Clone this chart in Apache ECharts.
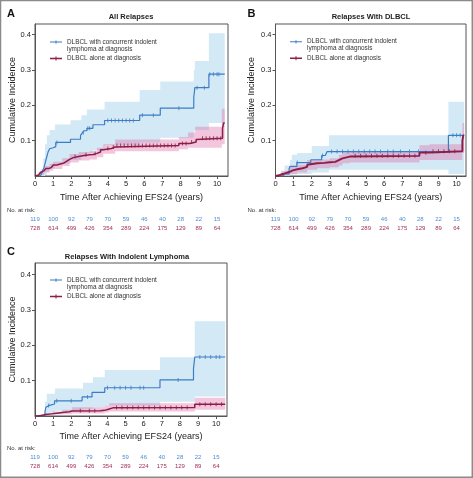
<!DOCTYPE html>
<html><head><meta charset="utf-8">
<script src="https://cdn.jsdelivr.net/npm/echarts@6/dist/echarts.min.js"></script>
<style>html,body{margin:0;padding:0;background:#fff}#c{width:473px;height:478px}</style>
</head><body><div id="c"></div>
<script>
// ---------------- DATA ----------------
const panelLetters = ['A', 'B', 'C'];
const panelTitles = ['All Relapses', 'Relapses With DLBCL', 'Relapses With Indolent Lymphoma'];
const seriesNames = ['DLBCL with concurrent indolent\nlymphoma at diagnosis', 'DLBCL alone at diagnosis'];
const xTicks = [0, 1, 2, 3, 4, 5, 6, 7, 8, 9, 10];
const yTicks = [0.1, 0.2, 0.3, 0.4];
const xTitle = 'Time After Achieving EFS24 (years)';
const yTitle = 'Cumulative Incidence';
const riskLabel = 'No. at risk:';
const riskIndolent = [119, 100, 92, 79, 70, 59, 46, 40, 28, 22, 15];
const riskAlone = [728, 614, 499, 426, 354, 289, 224, 175, 129, 89, 64];

// Panel A: all relapses  [time, cumulative incidence]
const curveA_ind = [[0,0],[0.3,0.004],[0.4,0.012],[0.5,0.025],[0.6,0.045],[0.65,0.055],[0.72,0.068],[0.8,0.077],[0.9,0.08],[1.0,0.083],[1.14,0.095],[1.95,0.104],[2.5,0.115],[2.6,0.122],[2.7,0.128],[2.85,0.135],[3.18,0.145],[3.82,0.157],[5.75,0.172],[6.88,0.192],[8.72,0.222],[8.78,0.25],[9.55,0.288],[10.42,0.288]];
const curveA_alone = [[0,0],[0.1,0.003],[0.2,0.006],[0.3,0.01],[0.4,0.015],[0.5,0.018],[0.6,0.021],[0.75,0.024],[0.9,0.028],[1.0,0.031],[1.2,0.034],[1.4,0.037],[1.6,0.042],[1.75,0.047],[1.9,0.052],[2.1,0.055],[2.4,0.058],[2.7,0.06],[3.0,0.061],[3.2,0.064],[3.4,0.068],[3.6,0.074],[3.75,0.078],[4.2,0.082],[4.4,0.086],[7.9,0.092],[8.5,0.096],[8.85,0.103],[8.95,0.107],[10.3,0.135],[10.36,0.15],[10.42,0.15]];
// bands: [time, lower, upper]
const bandA_ind = [[0,0,0],[0.3,0,0.02],[0.45,0,0.05],[0.55,0.003,0.09],[0.65,0.012,0.115],[0.8,0.022,0.13],[1.1,0.035,0.146],[1.95,0.045,0.158],[2.55,0.055,0.172],[2.85,0.065,0.188],[3.2,0.072,0.188],[3.82,0.087,0.21],[5.75,0.095,0.243],[6.88,0.108,0.267],[8.72,0.125,0.3],[8.78,0.13,0.325],[9.55,0.15,0.404],[10.42,0.15,0.404]];
const bandA_alone = [[0,0,0],[0.2,0.002,0.012],[0.5,0.01,0.028],[0.8,0.015,0.035],[1.0,0.02,0.04],[1.5,0.028,0.05],[1.9,0.038,0.062],[2.4,0.044,0.068],[3.0,0.047,0.07],[3.4,0.053,0.08],[3.75,0.063,0.09],[4.4,0.07,0.103],[7.9,0.076,0.11],[8.4,0.08,0.123],[8.8,0.08,0.139],[10.26,0.09,0.19],[10.42,0.09,0.19]];
const censorA_ind = [1.2,2.65,2.9,3.0,4.0,4.2,4.4,4.6,4.8,5.0,5.2,5.4,5.9,6.5,7.9,8.9,9.3,9.6,9.8,10.0,10.1];
const censorA_alone = [2.2,2.8,3.3,4.0,4.3,4.5,4.7,4.9,5.1,5.3,5.5,5.7,5.9,6.1,6.3,6.5,6.7,6.9,7.1,7.3,7.5,7.7,8.1,8.3,8.6,9.2,9.4,9.6,9.8,10.0,10.2];

// Panel B: relapses with DLBCL
const curveB_ind = [[0,0],[0.4,0.003],[0.5,0.006],[0.75,0.02],[0.8,0.027],[1.18,0.038],[1.95,0.046],[2.55,0.058],[2.75,0.063],[2.85,0.069],[9.55,0.115],[10.42,0.115]];
const curveB_alone = [[0,0],[0.1,0.002],[0.2,0.005],[0.35,0.008],[0.55,0.012],[0.8,0.016],[0.95,0.019],[1.2,0.022],[1.5,0.026],[1.75,0.032],[1.85,0.036],[2.3,0.037],[2.7,0.039],[3.0,0.04],[3.3,0.045],[3.5,0.05],[3.7,0.055],[4.1,0.057],[7.95,0.066],[8.5,0.07],[10.32,0.1],[10.37,0.115],[10.42,0.115]];
const bandB_ind = [[0,0,0],[0.5,0,0.03],[0.8,0.003,0.045],[0.9,0.004,0.06],[1.2,0.006,0.065],[2.0,0.01,0.085],[2.95,0.018,0.115],[9.55,0.006,0.21],[10.42,0.006,0.21]];
const bandB_alone = [[0,0,0],[0.3,0.001,0.015],[0.8,0.006,0.028],[1.2,0.01,0.032],[1.75,0.018,0.045],[2.3,0.022,0.047],[3.0,0.025,0.05],[3.5,0.03,0.06],[3.7,0.036,0.067],[4.1,0.038,0.07],[7.95,0.045,0.087],[8.5,0.045,0.09],[10.32,0.065,0.15],[10.42,0.065,0.15]];
const censorB_ind = [1.2,2.6,3.1,3.4,3.7,4.0,4.3,4.6,4.9,5.2,5.5,5.8,6.2,6.5,6.9,7.4,7.9,9.8,10.0,10.2];
const censorB_alone = [4.4,4.7,5.0,5.3,5.6,5.9,6.2,6.5,6.8,7.1,7.4,7.7,8.3,8.7,9.0,9.3,9.6,9.9];

// Panel C: relapses with indolent lymphoma
const curveC_ind = [[0,0],[0.55,0.012],[0.6,0.025],[0.66,0.03],[0.8,0.034],[1.08,0.043],[2.6,0.054],[3.15,0.067],[3.85,0.08],[6.9,0.102],[8.75,0.133],[8.82,0.167],[10.5,0.167]];
const curveC_alone = [[0,0],[0.2,0.002],[0.4,0.004],[0.6,0.006],[0.9,0.008],[1.2,0.01],[1.5,0.012],[1.9,0.014],[2.05,0.015],[3.6,0.016],[3.85,0.02],[4.1,0.023],[4.3,0.024],[8.82,0.033],[10.5,0.033]];
const bandC_ind = [[0,0,0],[0.55,0.002,0.04],[0.65,0.008,0.063],[1.1,0.015,0.078],[2.65,0.02,0.094],[3.2,0.025,0.11],[3.85,0.03,0.13],[6.9,0.04,0.166],[8.82,0.055,0.268],[10.5,0.055,0.268]];
const bandC_alone = [[0,0,0],[0.5,0.001,0.008],[1.0,0.004,0.013],[1.5,0.005,0.018],[2.05,0.007,0.025],[3.85,0.01,0.03],[4.1,0.013,0.036],[8.82,0.018,0.052],[10.5,0.018,0.052]];
const censorC_ind = [0.75,1.2,2.0,2.9,4.0,4.4,4.7,5.0,5.3,5.8,6.0,7.9,9.1,9.4,9.7,10.0,10.2];
const censorC_alone = [2.5,3.0,3.3,4.5,4.8,5.1,5.4,5.7,6.0,6.3,6.6,6.9,7.2,7.5,7.8,8.1,8.4,9.1,9.4,9.7,10.0,10.3];

// ---------------- LAYOUT / STYLE ----------------
const FONT = 'Liberation Sans, Arial, Helvetica, sans-serif';
const C_BLUE = '#3b7dc4', C_BLUE_BAND = '#d4e9f6';
const C_RED = '#8c1d45', C_RED_BAND = 'rgba(222,105,165,0.38)';
const C_RISK_BLUE = '#4f8fd0', C_RISK_RED = '#a03060';
const panels = [
  { grid: {left: 35, top: 24, width: 193, height: 152}, xmax: 10.6, ymax: 0.43,
    title: {x: 131, y: 12.5}, letter: {x: 7, y: 8}, legend: {x: 50, y: 38.5},
    riskOff: [40.5, 49.5], riskLabel: {x: 7, y: 207}, xNameGap: 17, yNameGap: 18,
    curves: [curveA_ind, curveA_alone], bands: [bandA_ind, bandA_alone], censors: [censorA_ind, censorA_alone] },
  { grid: {left: 275.5, top: 24, width: 190.5, height: 152}, xmax: 10.52, ymax: 0.43,
    title: {x: 371, y: 12.5}, letter: {x: 247.5, y: 8}, legend: {x: 290, y: 38.2},
    riskOff: [40, 49], riskLabel: {x: 247.5, y: 207}, xNameGap: 17, yNameGap: 19,
    curves: [curveB_ind, curveB_alone], bands: [bandB_ind, bandB_alone], censors: [censorB_ind, censorB_alone] },
  { grid: {left: 35, top: 263, width: 192, height: 153}, xmax: 10.6, ymax: 0.433,
    title: {x: 127, y: 252.5}, letter: {x: 7, y: 246}, legend: {x: 50, y: 276.5},
    riskOff: [38.5, 47], riskLabel: {x: 7, y: 445}, xNameGap: 16, yNameGap: 18,
    curves: [curveC_ind, curveC_alone], bands: [bandC_ind, bandC_alone], censors: [censorC_ind, censorC_alone] }
];

function stepAt(curve, t) {
  let y = 0;
  for (const p of curve) { if (p[0] <= t) y = p[1]; }
  return y;
}
const isInt = v => Math.abs(v - Math.round(v)) < 1e-6;

// polygon of a step-shaped band, drawn once through the axis scales
function bandRenderer(band, fill) {
  return function (params, api) {
    if (params.dataIndex !== 0) return null;
    const pts = [];
    for (let i = 0; i < band.length - 1; i++) {
      pts.push(api.coord([band[i][0], band[i][2]]));
      pts.push(api.coord([band[i + 1][0], band[i][2]]));
    }
    for (let i = band.length - 2; i >= 0; i--) {
      pts.push(api.coord([band[i + 1][0], band[i][1]]));
      pts.push(api.coord([band[i][0], band[i][1]]));
    }
    return {type: 'polygon', shape: {points: pts}, style: {fill: fill, stroke: null}, silent: true};
  };
}

const grids = [], xAxes = [], yAxes = [], series = [], titles = [], legends = [], graphics = [];

const iconBlue = 'path://M0,1 L12,1 L12,2 L0,2 Z M5.5,0 L6.5,0 L6.5,3.2 L5.5,3.2 Z M0,10 L0.01,10 L0,10 Z';
const iconRed = 'path://M0,4.2 L12,4.2 L12,5.8 L0,5.8 Z M5.5,3 L6.5,3 L6.5,7 L5.5,7 Z M0,0 L0.01,0 L0,0 Z M0,10 L0.01,10 L0,10 Z';

panels.forEach((P, p) => {
  grids.push(Object.assign({show: true, borderColor: '#555', borderWidth: 1, backgroundColor: 'transparent', containLabel: false}, P.grid));
  const xi = xAxes.length;
  xAxes.push({
    type: 'value', gridIndex: p, min: 0, max: P.xmax, interval: 1, position: 'bottom',
    axisLine: {show: true, lineStyle: {color: '#555', width: 1}},
    axisTick: {show: true, length: 3, inside: false, lineStyle: {color: '#555'}, customValues: xTicks},
    axisLabel: {fontSize: 7.5, color: '#222', margin: 4, fontFamily: FONT, customValues: xTicks,
      formatter: v => isInt(v) ? String(Math.round(v)) : ''},
    splitLine: {show: false},
    name: xTitle, nameLocation: 'middle', nameGap: P.xNameGap,
    nameTextStyle: {fontSize: 9, color: '#222', fontFamily: FONT}
  });
  [riskIndolent, riskAlone].forEach((arr, k) => {
    xAxes.push({
      type: 'value', gridIndex: p, min: 0, max: P.xmax, interval: 1, position: 'bottom', offset: P.riskOff[k],
      axisLine: {show: false}, axisTick: {show: false}, splitLine: {show: false},
      axisLabel: {fontSize: 6, color: k === 0 ? C_RISK_BLUE : C_RISK_RED, margin: 0, fontFamily: FONT,
        customValues: xTicks,
        formatter: v => isInt(v) && arr[Math.round(v)] !== undefined ? String(arr[Math.round(v)]) : ''}
    });
  });
  yAxes.push({
    type: 'value', gridIndex: p, min: 0, max: P.ymax, interval: 0.1,
    axisLine: {show: true, lineStyle: {color: '#555', width: 1}},
    axisTick: {show: true, length: 3, lineStyle: {color: '#555'}, customValues: yTicks},
    axisLabel: {fontSize: 7.5, color: '#222', margin: 4, fontFamily: FONT, customValues: yTicks,
      formatter: v => (v > 0.05 && isInt(v * 10)) ? v.toFixed(1) : ''},
    splitLine: {show: false},
    name: yTitle, nameLocation: 'middle', nameGap: P.yNameGap,
    nameTextStyle: {fontSize: 9, color: '#222', fontFamily: FONT}
  });

  // confidence bands
  P.bands.forEach((band, k) => {
    series.push({
      type: 'custom', xAxisIndex: xi, yAxisIndex: p, silent: true, clip: true,
      renderItem: bandRenderer(band, k === 0 ? C_BLUE_BAND : C_RED_BAND),
      encode: {x: 0, y: [1, 2]}, data: band, z: 1, animation: false
    });
  });
  // step curves
  P.curves.forEach((curve, k) => {
    const col = k === 0 ? C_BLUE : C_RED;
    series.push({
      type: 'line', name: seriesNames[k], xAxisIndex: xi, yAxisIndex: p, step: 'end', symbol: 'none',
      lineStyle: {color: col, width: k === 0 ? 1.2 : (p === 1 ? 1.9 : 1.5)}, itemStyle: {color: col},
      data: curve, z: 3, animation: false
    });
  });
  // censor ticks
  P.censors.forEach((cens, k) => {
    const col = k === 0 ? C_BLUE : C_RED;
    series.push({
      type: 'scatter', xAxisIndex: xi, yAxisIndex: p, symbol: 'rect', symbolSize: [1, 4], silent: true,
      itemStyle: {color: col}, data: cens.map(t => [t, stepAt(P.curves[k], t)]), z: 4, animation: false
    });
  });

  titles.push({text: panelTitles[p], left: P.title.x, top: P.title.y, textAlign: 'center', padding: 0,
    textStyle: {fontSize: 7.5, fontWeight: 'bold', color: '#222', fontFamily: FONT}});
  titles.push({text: panelLetters[p], left: P.letter.x, top: P.letter.y, padding: 0,
    textStyle: {fontSize: 11, fontWeight: 'bold', color: '#111', fontFamily: FONT}});

  legends.push({
    orient: 'vertical', left: P.legend.x, top: P.legend.y, padding: 0, itemGap: 1,
    itemWidth: 12, itemHeight: 10, symbolKeepAspect: false, selectedMode: false,
    textStyle: {fontSize: 6.4, lineHeight: 7, color: '#333', fontFamily: FONT},
    data: [{name: seriesNames[0], icon: iconBlue}, {name: seriesNames[1], icon: iconRed}]
  });

  graphics.push({type: 'text', left: P.riskLabel.x, top: P.riskLabel.y,
    style: {text: riskLabel, fontSize: 6, fill: '#333', fontFamily: FONT}});
});

graphics.push({type: 'rect', shape: {x: 0.5, y: 0.5, width: 471.8, height: 476.8},
  style: {fill: 'none', stroke: '#8a8a8a', lineWidth: 1.5}, silent: true, z: 100});

const chart = echarts.init(document.getElementById('c'), null, {renderer: 'canvas'});
chart.setOption({
  animation: false,
  textStyle: {fontFamily: FONT},
  title: titles,
  legend: legends,
  grid: grids,
  xAxis: xAxes,
  yAxis: yAxes,
  series: series,
  graphic: graphics
});
</script>
</body></html>
